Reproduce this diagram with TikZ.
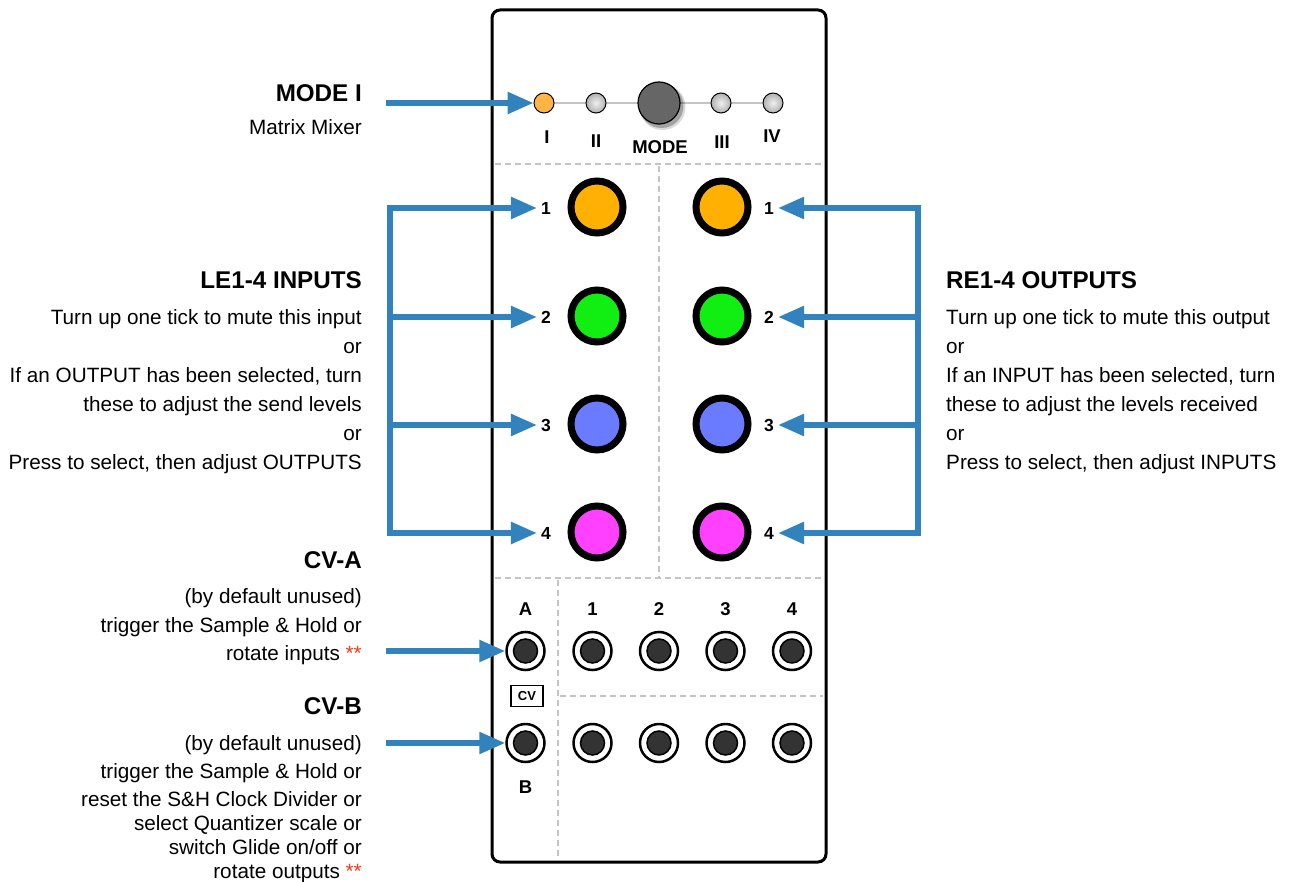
\documentclass[tikz,border=0pt]{standalone}
\usepackage{fontspec}
\setmainfont{Liberation Sans}
\usetikzlibrary{arrows.meta}
\definecolor{arrowblue}{HTML}{3182BD}
\definecolor{divgray}{HTML}{C4C4C4}
\definecolor{knoborange}{HTML}{FFB000}
\definecolor{knobgreen}{HTML}{11EE11}
\definecolor{knobblue}{HTML}{6A7BFF}
\definecolor{knobpink}{HTML}{FF40FF}
\definecolor{ledorange}{HTML}{FFB444}
\definecolor{jackfill}{HTML}{333333}
\definecolor{modeknob}{HTML}{666666}
\definecolor{starred}{HTML}{F03C1E}
\tikzset{
  panelbox/.style={draw=black, line width=3pt, rounded corners=8pt, minimum width=334pt, minimum height=852pt, inner sep=0pt},
  divider/.style={draw=divgray, line width=2pt, dash pattern=on 6pt off 4pt},
  bigknob/.style={circle, draw=black, line width=7pt, minimum size=52pt, inner sep=0pt},
  led/.style={circle, draw=black, line width=1pt, minimum size=20pt, inner sep=0pt, shading=radial, inner color=gray!12, outer color=gray!62},
  jackouter/.style={circle, draw=black, line width=2.5pt, fill=white, minimum size=38pt, inner sep=0pt},
  jackinner/.style={circle, draw=black, line width=1.5pt, fill=jackfill, minimum size=24pt, inner sep=0pt},
  lbl/.style={font=\fontsize{18.5}{20}\selectfont\bfseries, inner sep=1pt},
  klbl/.style={font=\fontsize{17.5}{20}\selectfont\bfseries, inner sep=4pt},
  desc/.style={font=\fontsize{20.7}{29}\selectfont, inner sep=0pt},
  head/.style={font=\fontsize{24.2}{29}\selectfont\bfseries, inner sep=0pt},
  bline/.style={draw=arrowblue, line width=5.5pt},
  barrow/.style={draw=arrowblue, line width=5.5pt, -{Triangle[length=26pt, width=21pt]}},
}
\begin{document}
\begin{tikzpicture}[x=1pt,y=-1pt]
\useasboundingbox (0,0) rectangle (1289,882);

% panel
\node[panelbox] (panel) at (659,436) {};

% dividers
\draw[divider] (495,164) -- (823,164);
\draw[divider] (659,166) -- (659,577);
\draw[divider] (495,578) -- (823,578);
\draw[divider] (558,580) -- (558,860);
\draw[divider] (560,696) -- (823,696);

% mode row
\draw[draw=divgray, line width=2pt] (544,103) -- (773,103);
\fill[black, opacity=0.25] (661.5,106) circle (22pt);
\fill[black, opacity=0.15] (662.5,107) circle (23pt);
\node[circle, draw=black, line width=1.2pt, fill=modeknob, minimum size=42pt, inner sep=0pt] (modeknob) at (659,103) {};
\node[circle, draw=black, line width=1pt, minimum size=20pt, inner sep=0pt, fill=ledorange] (ledI) at (544,103) {};
\node[led] (ledII) at (596,103) {};
\node[led] (ledIII) at (721,103) {};
\node[led] (ledIV) at (773,103) {};
\node[lbl] (tI) at (547,137) {I};
\node[lbl] (tII) at (596,141) {II};
\node[lbl] (tMODE) at (660,147) {MODE};
\node[lbl] (tIII) at (722,142) {III};
\node[lbl] (tIV) at (772,136) {IV};

% big knobs
\node[bigknob, fill=knoborange] (kl1) at (597,207) {};
\node[bigknob, fill=knobgreen]  (kl2) at (597,316) {};
\node[bigknob, fill=knobblue]   (kl3) at (597,424) {};
\node[bigknob, fill=knobpink]   (kl4) at (597,532) {};
\node[bigknob, fill=knoborange] (kr1) at (722,207) {};
\node[bigknob, fill=knobgreen]  (kr2) at (722,316) {};
\node[bigknob, fill=knobblue]   (kr3) at (722,424) {};
\node[bigknob, fill=knobpink]   (kr4) at (722,532) {};
\node[klbl] (l1) at (546,208) {1};
\node[klbl] (l2) at (546,317) {2};
\node[klbl] (l3) at (546,425) {3};
\node[klbl] (l4) at (546,533) {4};
\node[klbl] (r1) at (769,208) {1};
\node[klbl] (r2) at (769,317) {2};
\node[klbl] (r3) at (769,425) {3};
\node[klbl] (r4) at (769,533) {4};

% jacks
\foreach \nm/\x in {A/525.5, 1/592.5, 2/659, 3/725.5, 4/792} {
  \node[jackouter] (jt\nm) at (\x,651) {};
  \node[jackinner] (jti\nm) at (\x,651) {};
  \node[jackouter] (jb\nm) at (\x,743) {};
  \node[jackinner] (jbi\nm) at (\x,743) {};
}
\node[lbl] (tA) at (525.5,609) {A};
\node[lbl] (tj1) at (592.5,609) {1};
\node[lbl] (tj2) at (659,609) {2};
\node[lbl] (tj3) at (725.5,609) {3};
\node[lbl] (tj4) at (792,609) {4};
\node[draw=black, line width=1.2pt, minimum width=32pt, minimum height=21pt, inner sep=0pt, font=\fontsize{13}{14}\selectfont\bfseries] (cvbox) at (527,696) {CV};
\node[lbl] (tB) at (525.5,787) {B};

% arrows
\coordinate (modestart) at (386,103);
\draw[barrow] (modestart) -- (ledI.west);

\coordinate (lb1) at (390,208);
\coordinate (lb2) at (390,317);
\coordinate (lb3) at (390,425);
\coordinate (lb4) at (390,533);
\draw[bline, line cap=rect] (lb1) -- (lb4);
\draw[barrow] (lb1) -- (l1.west);
\draw[barrow] (lb2) -- (l2.west);
\draw[barrow] (lb3) -- (l3.west);
\draw[barrow] (lb4) -- (l4.west);

\coordinate (rb1) at (918,208);
\coordinate (rb2) at (918,317);
\coordinate (rb3) at (918,425);
\coordinate (rb4) at (918,533);
\draw[bline, line cap=rect] (rb1) -- (rb4);
\draw[barrow] (rb1) -- (r1.east);
\draw[barrow] (rb2) -- (r2.east);
\draw[barrow] (rb3) -- (r3.east);
\draw[barrow] (rb4) -- (r4.east);

\coordinate (cvastart) at (386,651);
\coordinate (cvbstart) at (386,743);
\draw[barrow] (cvastart) -- (jtA.west);
\draw[barrow] (cvbstart) -- (jbA.west);

% left texts
\node[head, anchor=base east] (hmode) at (362,101.5) {MODE I};
\node[desc, anchor=base east] (dmode) at (362,135) {Matrix Mixer};

\node[head, anchor=base east] (hle) at (362,289) {LE1-4 INPUTS};
\node[desc, anchor=base east] (dle1) at (362,324.5) {Turn up one tick to mute this input};
\node[desc, anchor=base east] (dle2) at (362,353.5) {or};
\node[desc, anchor=base east] (dle3) at (362,382.5) {If an OUTPUT has been selected, turn};
\node[desc, anchor=base east] (dle4) at (362,411.5) {these to adjust the send levels};
\node[desc, anchor=base east] (dle5) at (362,440.5) {or};
\node[desc, anchor=base east] (dle6) at (362,469.5) {Press to select, then adjust OUTPUTS};

\node[head, anchor=base east] (hcva) at (362,568.5) {CV-A};
\node[desc, anchor=base east] (dcva1) at (362,603.5) {(by default unused)};
\node[desc, anchor=base east] (dcva2) at (362,632.5) {trigger the Sample \& Hold or};
\node[desc, anchor=base east] (dcva3) at (362,660.5) {rotate inputs \textcolor{starred}{**}};

\node[head, anchor=base east] (hcvb) at (362,714.5) {CV-B};
\node[desc, anchor=base east] (dcvb1) at (362,750) {(by default unused)};
\node[desc, anchor=base east] (dcvb2) at (362,778) {trigger the Sample \& Hold or};
\node[desc, anchor=base east] (dcvb3) at (362,806) {reset the S\&H Clock Divider or};
\node[desc, anchor=base east] (dcvb4) at (362,830) {select Quantizer scale or};
\node[desc, anchor=base east] (dcvb5) at (362,854.5) {switch Glide on/off or};
\node[desc, anchor=base east] (dcvb6) at (362,878.5) {rotate outputs \textcolor{starred}{**}};

% right texts
\node[head, anchor=base west] (hre) at (946,289) {RE1-4 OUTPUTS};
\node[desc, anchor=base west] (dre1) at (946,324.5) {Turn up one tick to mute this output};
\node[desc, anchor=base west] (dre2) at (946,353.5) {or};
\node[desc, anchor=base west] (dre3) at (946,382.5) {If an INPUT has been selected, turn};
\node[desc, anchor=base west] (dre4) at (946,411.5) {these to adjust the levels received};
\node[desc, anchor=base west] (dre5) at (946,440.5) {or};
\node[desc, anchor=base west] (dre6) at (946,469.5) {Press to select, then adjust INPUTS};
\end{tikzpicture}
\end{document}
